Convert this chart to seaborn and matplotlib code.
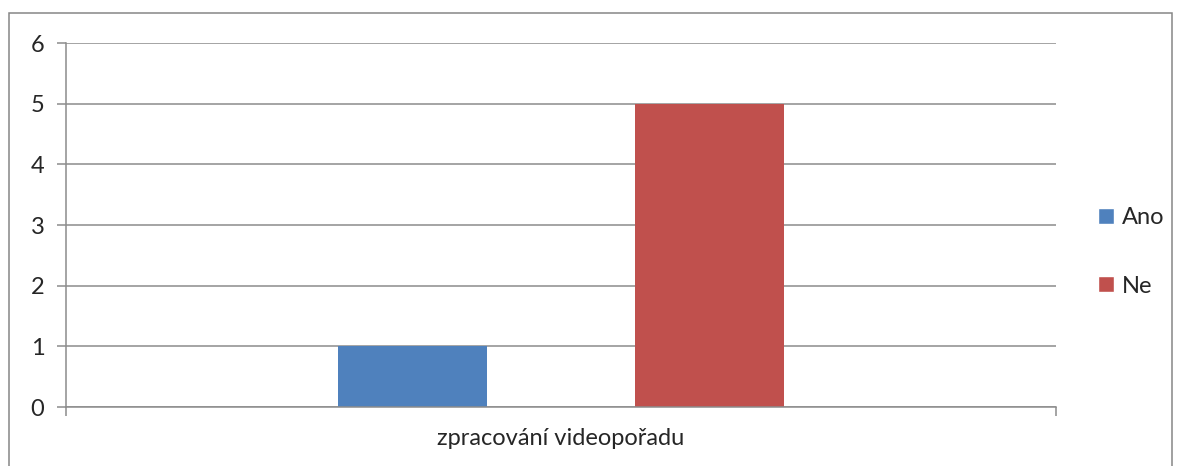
import pandas as pd
import seaborn as sns
import matplotlib.pyplot as plt
from matplotlib.patches import Rectangle, Patch
from matplotlib.ticker import FixedLocator

# data
categories = ["zpracování videopořadu"]
series = ["Ano", "Ne"]
values_ano = [1]
values_ne = [5]
colors = ["#4F81BD", "#C0504D"]

df = pd.DataFrame({
    "Kategorie": categories * 2,
    "Odpověď": ["Ano"] * len(categories) + ["Ne"] * len(categories),
    "Počet": values_ano + values_ne,
})

sns.set_style("white")
plt.rcParams["font.family"] = ["Lato", "DejaVu Sans"]
grid_col = "#8C8C8C"
fs = 17

fig = plt.figure(figsize=(11.78, 4.66), dpi=100)
ax = fig.add_axes([66 / 1178, 59 / 466, 990 / 1178, 364 / 466])

sns.barplot(data=df, x="Kategorie", y="Počet", hue="Odpověď", palette=colors,
            width=0.6, gap=0.5, saturation=1, legend=False, linewidth=0, ax=ax)

ax.set_xlim(-0.5, 0.5)
ax.set_ylim(0, 6)
ax.set_yticks(range(0, 7))
ax.set_xlabel("")
ax.set_ylabel("")
ax.grid(axis="y", color=grid_col, linewidth=1.1)
ax.set_axisbelow(True)

for s in ["top", "right"]:
    ax.spines[s].set_visible(False)
for s in ["left", "bottom"]:
    ax.spines[s].set_color(grid_col)
    ax.spines[s].set_linewidth(1.1)

ax.tick_params(axis="y", length=6.5, width=1.1, color=grid_col, pad=9, labelsize=fs, left=True)
ax.tick_params(axis="x", which="major", length=0, pad=15, labelsize=fs)
ax.xaxis.set_minor_locator(FixedLocator([-0.5, 0.5]))
ax.tick_params(axis="x", which="minor", length=6.5, width=1.1, color=grid_col, bottom=True)

handles = [Patch(facecolor=c, label=s) for s, c in zip(series, colors)]
fig.legend(handles=handles, loc="center left", bbox_to_anchor=(1077 / 1178, (466 - 252) / 466),
           frameon=False, fontsize=fs, handlelength=0.65, handleheight=0.65,
           handletextpad=0.35, labelspacing=2.0)

fig.patches.append(Rectangle((9 / 1178, -0.05), 1163 / 1178, (466 - 13) / 466 + 0.05,
                             transform=fig.transFigure, fill=False,
                             edgecolor="#868686", linewidth=1.1))

fig.savefig("out.png", dpi=100)
